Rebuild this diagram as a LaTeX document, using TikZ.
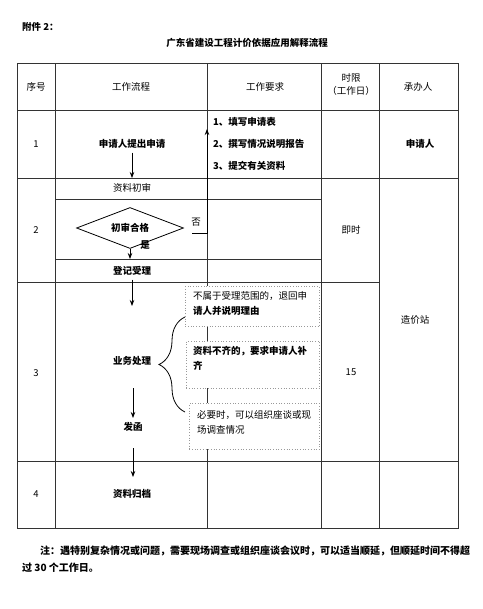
\documentclass[tikz,border=0pt]{standalone}
\usepackage{fontspec}
\setmainfont{Noto Sans CJK SC}
\usetikzlibrary{shapes.geometric,arrows.meta,decorations.pathreplacing}
\tikzset{
  cell/.style={font=\fontsize{9.5pt}{13pt}\selectfont, inner sep=0pt},
  bcell/.style={font=\fontsize{9.5pt}{13pt}\selectfont\bfseries, inner sep=0pt},
  grid/.style={line width=0.8pt, draw=black!80},
  flow/.style={line width=0.8pt, -{Stealth[length=6pt,width=4.5pt]}},
  notebox/.style={draw=black!40, dotted, line width=0.7pt, fill=white, inner sep=0pt, anchor=north west},
  boxtext/.style={font=\fontsize{9.5pt}{15.5pt}\selectfont, inner sep=0pt, anchor=north west, align=left},
  decision/.style={diamond, draw, line width=0.8pt, minimum width=107pt, minimum height=41pt, aspect=2.6, inner sep=0pt, font=\fontsize{9.5pt}{13pt}\selectfont\bfseries},
}
\begin{document}
\begin{tikzpicture}[x=1pt,y=-1pt]
\fill[white] (0,0) rectangle (482,609);
\useasboundingbox (0,0) rectangle (482,609);

% titles
\node[bcell, anchor=west] (att) at (22,27) {附件 2：};
\node[bcell] (title) at (247,43) {广东省建设工程计价依据应用解释流程};

% table grid
\draw[grid, line width=1pt] (17,64) rectangle (458,528);
\draw[grid] (17,110) -- (458,110);
\draw[grid] (17,178) -- (458,178);
\draw[grid] (17,282) -- (379,282);
\draw[grid] (17,461) -- (458,461);
\draw[grid] (55,199) -- (321,199);
\draw[grid] (55,259) -- (321,259);
\foreach \x in {55,207,321,379} \draw[grid] (\x,64) -- (\x,528);

% header
\node[cell] (h1) at (36,87) {序号};
\node[cell] (h2) at (131,87) {工作流程};
\node[cell] (h3) at (265,87) {工作要求};
\node[cell, align=center] (h4) at (351,84) {时限\\（工作日）};
\node[cell] (h5) at (418,87) {承办人};

% row numbers
\node[cell] (n1) at (36,144) {1};
\node[cell] (n2) at (36,230) {2};
\node[cell] (n3) at (36,373) {3};
\node[cell] (n4) at (36,494) {4};

% row 1
\node[bcell] (apply) at (132,144) {申请人提出申请};
\node[bcell, anchor=west] (req1) at (213,122) {1、填写申请表};
\node[bcell, anchor=west] (req2) at (213,144) {2、撰写情况说明报告};
\node[bcell, anchor=west] (req3) at (213,166) {3、提交有关资料};
\node[bcell] (who1) at (420,144) {申请人};

% row 2
\node[cell] (review) at (132,188) {资料初审};
\node[decision] (dia) at (130,228) {初审合格};
\node[bcell] (yes) at (145,245) {是};
\node[cell] (no) at (196,222) {否};
\node[bcell] (register) at (132,271) {登记受理};
\node[cell] (t2) at (351,230) {即时};

% row 3
\node[bcell] (process) at (132,361) {业务处理};
\node[bcell] (letter) at (133,427) {发函};
\node[cell] (t3) at (351,372) {15};
\node[cell] (who2) at (415,320) {造价站};

\node[notebox, minimum width=134pt, minimum height=40pt] (b1) at (185,286) {};
\node[boxtext] (bt1) at (193,291) {不属于受理范围的，退回申\\\textbf{请人并说明理由}};
\node[notebox, minimum width=133pt, minimum height=47pt] (b2) at (186,341) {};
\node[boxtext, font=\fontsize{9.5pt}{15.5pt}\selectfont\bfseries] (bt2) at (193,346) {资料不齐的，要求申请人补\\齐};
\node[notebox, minimum width=130pt, minimum height=46pt] (b3) at (189,403) {};
\node[boxtext] (bt3) at (197,410) {必要时，可以组织座谈或现\\场调查情况};

\draw[line width=0.8pt, decorate, decoration={brace, amplitude=26pt, aspect=0.5}] (185,412) -- (185,317);

% row 4
\node[bcell] (archive) at (132,494) {资料归档};

% connectors
\coordinate (a1) at (132,178);
\coordinate (a2) at (130,259);
\coordinate (a3) at (132,306);
\coordinate (p1) at (133,388);
\coordinate (p2) at (133,418);
\coordinate (l1) at (133,448);
\coordinate (l2) at (133,477);
\coordinate (q1) at (192,233);
\coordinate (q2) at (207,129);
\draw[flow] ([yshift=-4pt]apply.south) -- (a1);
\draw[flow] (dia.south) -- (a2);
\draw[flow] ([yshift=-4pt]register.south) -- (a3);
\draw[flow] (p1) -- (p2);
\draw[flow] (l1) -- (l2);
\draw[flow] (q1) -| (q2);

% note
\node[bcell, font=\fontsize{10pt}{13pt}\selectfont\bfseries, anchor=west] (note1) at (40,551) {注：遇特别复杂情况或问题，需要现场调查或组织座谈会议时，可以适当顺延，但顺延时间不得超};
\node[bcell, font=\fontsize{10pt}{13pt}\selectfont\bfseries, anchor=west] (note2) at (22,568) {过 30 个工作日。};
\end{tikzpicture}
\end{document}
